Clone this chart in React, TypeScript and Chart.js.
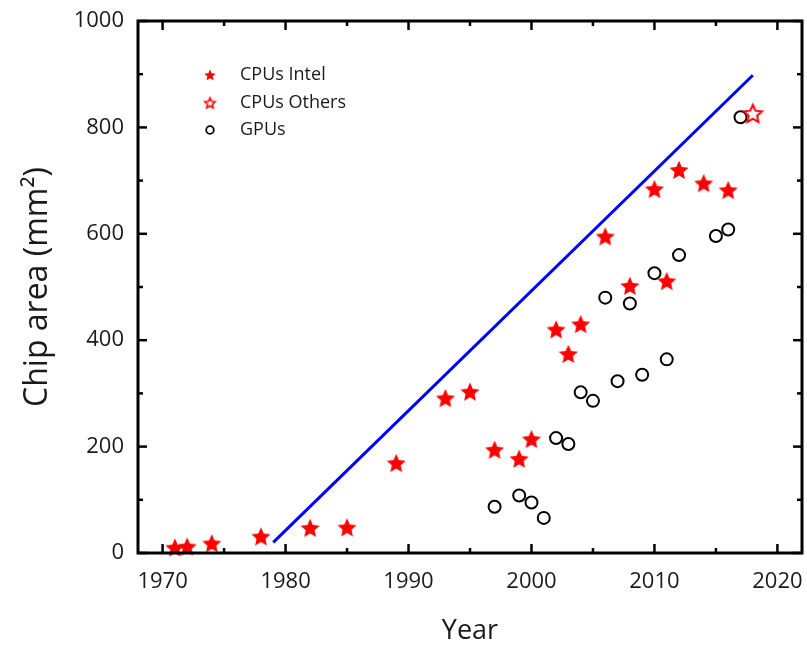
import React, { useEffect, useRef } from "react";
import { Chart, registerables } from "chart.js";
Chart.register(...registerables);

// ---- Data ----
const intelYears = [1971, 1972, 1974, 1978, 1982, 1985, 1989, 1993, 1995, 1997, 1999, 2000, 2002, 2003, 2004, 2006, 2008, 2010, 2011, 2012, 2014, 2016];
const intelArea = [10, 12, 18, 31, 47, 48, 169, 291, 303, 194, 177, 214, 420, 374, 430, 595, 502, 684, 511, 720, 695, 682];
const othersYears = [2018];
const othersArea = [826];
const gpuYears = [1997, 1999, 2000, 2001, 2002, 2003, 2004, 2005, 2006, 2007, 2008, 2009, 2010, 2011, 2012, 2015, 2016, 2017];
const gpuArea = [87, 108, 95, 66, 216, 205, 302, 286, 480, 323, 469, 335, 526, 364, 560, 596, 608, 819];
const trendYears = [1979, 2018];
const trendArea = [20, 898];

const xTicks = [1970, 1980, 1990, 2000, 2010, 2020];
const xMinorTicks = [1975, 1985, 1995, 2005, 2015];
const yTicks = [0, 200, 400, 600, 800, 1000];
const yMinorTicks = [100, 300, 500, 700, 900];
const legendLabels = ["CPUs Intel", "CPUs Others", "GPUs"];

const FONT = "'Open Sans', 'Liberation Sans', sans-serif";

function makeStar(R: number, fill: string | null, stroke: string | null, lw: number) {
  const c = document.createElement("canvas");
  const s = Math.ceil(2 * R + lw + 4);
  c.width = s;
  c.height = s;
  const ctx = c.getContext("2d")!;
  ctx.translate(s / 2, s / 2 + R * 0.08);
  ctx.beginPath();
  for (let i = 0; i < 10; i++) {
    const r = i % 2 === 0 ? R : R * 0.47;
    const a = -Math.PI / 2 + (i * Math.PI) / 5;
    ctx.lineTo(r * Math.cos(a), r * Math.sin(a));
  }
  ctx.closePath();
  if (fill) {
    ctx.fillStyle = fill;
    ctx.fill();
  }
  if (stroke) {
    ctx.strokeStyle = stroke;
    ctx.lineWidth = lw;
    ctx.lineJoin = "miter";
    ctx.stroke();
  }
  return c;
}

const zeroPad = () => ({ left: 0, top: 0, right: 0, bottom: 0 });

export default function App() {
  const ref = useRef<HTMLCanvasElement | null>(null);

  useEffect(() => {
    document.body.style.margin = "0";
    const canvas = ref.current;
    if (!canvas) return;

    const starFilled = makeStar(10, "#ff0000", null, 0);
    const starHollow = makeStar(9.5, "#ffffff", "#ff0000", 2);
    const legStarFilled = makeStar(6, "#ff0000", null, 0);
    const legStarHollow = makeStar(5.5, "#ffffff", "#ff0000", 1.6);

    const framePlugin = {
      id: "frame",
      afterDatasetsDraw(chart: any) {
        const { ctx, chartArea } = chart;
        const { left, right, top, bottom } = chartArea;
        const x = chart.scales.x;
        const y = chart.scales.y;
        ctx.save();
        ctx.strokeStyle = "#000";
        ctx.lineWidth = 2.5;
        const seg = (x1: number, y1: number, x2: number, y2: number) => {
          ctx.beginPath();
          ctx.moveTo(x1, y1);
          ctx.lineTo(x2, y2);
          ctx.stroke();
        };
        const drawX = (vals: number[], len: number) => {
          for (const v of vals) {
            const px = x.getPixelForValue(v);
            seg(px, bottom, px, bottom - len);
            seg(px, top, px, top + len);
          }
        };
        const drawY = (vals: number[], len: number) => {
          for (const v of vals) {
            const py = y.getPixelForValue(v);
            seg(left, py, left + len, py);
            seg(right, py, right - len, py);
          }
        };
        drawX(xTicks, 9);
        drawX(xMinorTicks, 5);
        drawY(yTicks, 9);
        drawY(yMinorTicks, 5);
        ctx.lineWidth = 3;
        ctx.strokeRect(left, top, right - left, bottom - top);
        ctx.restore();
      },
    };

    const legendPlugin = {
      id: "customLegend",
      afterDraw(chart: any) {
        const { ctx } = chart;
        const mx = 210;
        const tx = 240;
        const rows = [75, 103, 130];
        ctx.save();
        ctx.drawImage(legStarFilled, mx - legStarFilled.width / 2, rows[0] - legStarFilled.height / 2);
        ctx.drawImage(legStarHollow, mx - legStarHollow.width / 2, rows[1] - legStarHollow.height / 2);
        ctx.beginPath();
        ctx.arc(mx, rows[2], 3.8, 0, Math.PI * 2);
        ctx.strokeStyle = "#000";
        ctx.lineWidth = 1.8;
        ctx.stroke();
        ctx.fillStyle = "#1a1a1a";
        ctx.font = `18px ${FONT}`;
        ctx.textBaseline = "middle";
        ctx.textAlign = "left";
        legendLabels.forEach((t, i) => ctx.fillText(t, tx, rows[i]));
        ctx.restore();
      },
    };

    const chart = new Chart(canvas, {
      type: "scatter",
      data: {
        datasets: [
          {
            type: "line",
            label: "trend",
            data: trendYears.map((x, i) => ({ x, y: trendArea[i] })),
            borderColor: "#0000ff",
            borderWidth: 3,
            pointRadius: 0,
            fill: false,
          } as any,
          {
            label: legendLabels[0],
            data: intelYears.map((x, i) => ({ x, y: intelArea[i] })),
            pointStyle: starFilled,
            pointRadius: 10,
            backgroundColor: "#ff0000",
            borderColor: "#ff0000",
          },
          {
            label: legendLabels[1],
            data: othersYears.map((x, i) => ({ x, y: othersArea[i] })),
            pointStyle: starHollow,
            pointRadius: 10,
            backgroundColor: "#ff0000",
            borderColor: "#ff0000",
          },
          {
            label: legendLabels[2],
            data: gpuYears.map((x, i) => ({ x, y: gpuArea[i] })),
            pointStyle: "circle",
            pointRadius: 6,
            borderWidth: 2,
            backgroundColor: "rgba(0,0,0,0)",
            borderColor: "#000000",
          },
        ],
      },
      options: {
        responsive: false,
        animation: false,
        clip: false as any,
        layout: { autoPadding: false, padding: { left: 0, right: 5, top: 21, bottom: 0 } },
        plugins: {
          legend: { display: false },
          tooltip: { enabled: false },
        },
        scales: {
          x: {
            type: "linear",
            min: 1968,
            max: 2022,
            grid: { display: false },
            border: { display: false },
            afterBuildTicks: (axis: any) => {
              axis.ticks = xTicks.map((v) => ({ value: v }));
            },
            afterFit: (scale: any) => {
              scale.height = 95;
              scale.paddingLeft = 0;
              scale.paddingRight = 0;
              scale.getPadding = zeroPad;
            },
            ticks: {
              autoSkip: false,
              maxRotation: 0,
              padding: 8,
              color: "#1a1a1a",
              font: { family: FONT, size: 22 },
              callback: (v: any) => String(v),
            },
            title: {
              display: true,
              text: "Year",
              color: "#1a1a1a",
              font: { family: FONT, size: 27 },
              padding: { top: 0, bottom: 0 },
            },
          },
          y: {
            type: "linear",
            min: 0,
            max: 1000,
            grid: { display: false },
            border: { display: false },
            afterBuildTicks: (axis: any) => {
              axis.ticks = yTicks.map((v) => ({ value: v }));
            },
            afterFit: (scale: any) => {
              scale.width = 138;
              scale.paddingTop = 0;
              scale.paddingBottom = 0;
              scale.getPadding = zeroPad;
            },
            ticks: {
              autoSkip: false,
              padding: 6,
              color: "#1a1a1a",
              font: { family: FONT, size: 22 },
              callback: (v: any) => String(v),
            },
            title: {
              display: true,
              text: "Chip area (mm²)",
              color: "#1a1a1a",
              font: { family: FONT, size: 32 },
              padding: { top: 19, bottom: 0 },
            },
          },
        },
      },
      plugins: [framePlugin, legendPlugin],
    });

    return () => chart.destroy();
  }, []);

  return (
    <div style={{ width: 807, height: 648, background: "#fff" }}>
      <canvas ref={ref} width={807} height={648} style={{ display: "block" }} />
    </div>
  );
}
